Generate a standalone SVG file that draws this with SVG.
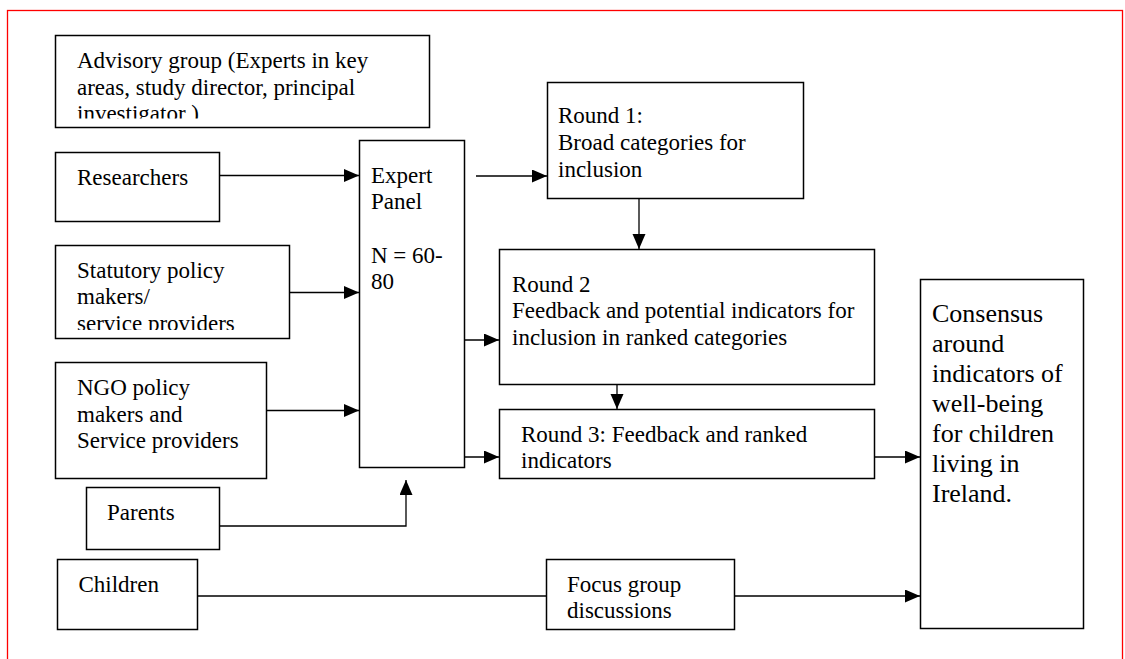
<svg xmlns="http://www.w3.org/2000/svg" width="1125" height="659" viewBox="0 0 1125 659">
<style>
.box{fill:#fff;stroke:#000;stroke-width:1.5}
.t{font-family:"Liberation Serif","Times New Roman",serif;font-size:23px;fill:#000}
.big{font-size:26px}
.c{fill:none;stroke:#000;stroke-width:1.3}
</style>
<defs>
<marker id="ah" markerUnits="userSpaceOnUse" markerWidth="16" markerHeight="14" refX="15" refY="6.5" orient="auto">
<path d="M0,0 L15,6.5 L0,13 z" fill="#000"/>
</marker>
<clipPath id="clipAdv"><rect x="55" y="35" width="375" height="83.5"/></clipPath>
<clipPath id="clipStat"><rect x="55" y="245" width="234" height="85"/></clipPath>
</defs>
<rect x="7.5" y="10.5" width="1115" height="700" fill="none" stroke="#f00" stroke-width="1.3"/>
<g id="connectors">
<path class="c" d="M219,175.5 H359" marker-end="url(#ah)"/>
<path class="c" d="M289,292.5 H359" marker-end="url(#ah)"/>
<path class="c" d="M266,410.5 H359" marker-end="url(#ah)"/>
<path class="c" d="M219,526 H406 V480" marker-end="url(#ah)"/>
<path class="c" d="M476,176 H547" marker-end="url(#ah)"/>
<path class="c" d="M639,198 V249" marker-end="url(#ah)"/>
<path class="c" d="M452,340 H499" marker-end="url(#ah)"/>
<path class="c" d="M617,385 V409" marker-end="url(#ah)"/>
<path class="c" d="M452,457 H499" marker-end="url(#ah)"/>
<path class="c" d="M874,457 H920" marker-end="url(#ah)"/>
<path class="c" d="M198,596 H546"/>
<path class="c" d="M734,596 H920" marker-end="url(#ah)"/>
</g>
<g id="advisory">
<rect class="box" x="55.5" y="35.5" width="374" height="92"/>
<g clip-path="url(#clipAdv)">
<text class="t" x="77" y="68">Advisory group (Experts in key</text>
<text class="t" x="77" y="94.5">areas, study director, principal</text>
<text class="t" x="77" y="121">investigator )</text>
</g>
</g>
<g id="researchers">
<rect class="box" x="55.5" y="152.5" width="164" height="69"/>
<text class="t" x="77" y="185">Researchers</text>
</g>
<g id="statutory">
<rect class="box" x="55.5" y="245.5" width="234" height="93"/>
<g clip-path="url(#clipStat)">
<text class="t" x="77" y="278">Statutory policy</text>
<text class="t" x="77" y="304">makers/</text>
<text class="t" x="77" y="331">service providers</text>
</g>
</g>
<g id="ngo">
<rect class="box" x="55.5" y="362.5" width="211" height="116"/>
<text class="t" x="77" y="395">NGO policy</text>
<text class="t" x="77" y="421.5">makers and</text>
<text class="t" x="77" y="448">Service providers</text>
</g>
<g id="parents">
<rect class="box" x="86.5" y="487.5" width="133" height="62"/>
<text class="t" x="107" y="520">Parents</text>
</g>
<g id="children">
<rect class="box" x="57.5" y="559.5" width="140" height="70"/>
<text class="t" x="78.5" y="592">Children</text>
</g>
<g id="expert-panel">
<rect class="box" x="359.5" y="140.5" width="105" height="327"/>
<text class="t" x="371" y="183">Expert</text>
<text class="t" x="371" y="209">Panel</text>
<text class="t" x="371" y="263">N = 60-</text>
<text class="t" x="371" y="289">80</text>
</g>
<g id="round1">
<rect class="box" x="547.5" y="82.5" width="256" height="116"/>
<text class="t" x="558" y="123">Round 1:</text>
<text class="t" x="558" y="150">Broad categories for</text>
<text class="t" x="558" y="177">inclusion</text>
</g>
<g id="round2">
<rect class="box" x="499.5" y="249.5" width="375" height="135"/>
<text class="t" x="512" y="292">Round 2</text>
<text class="t" x="512" y="318">Feedback and potential indicators for</text>
<text class="t" x="512" y="345">inclusion in ranked categories</text>
</g>
<g id="round3">
<rect class="box" x="499.5" y="409.5" width="375" height="69"/>
<text class="t" x="521" y="442">Round 3: Feedback and ranked</text>
<text class="t" x="521" y="468">indicators</text>
</g>
<g id="focus">
<rect class="box" x="546.5" y="559.5" width="188" height="70"/>
<text class="t" x="567" y="592">Focus group</text>
<text class="t" x="567" y="618">discussions</text>
</g>
<g id="consensus">
<rect class="box" x="920.5" y="279.5" width="163" height="349"/>
<text class="t big" x="932" y="322">Consensus</text>
<text class="t big" x="932" y="352">around</text>
<text class="t big" x="932" y="382">indicators of</text>
<text class="t big" x="932" y="412">well-being</text>
<text class="t big" x="932" y="442">for children</text>
<text class="t big" x="932" y="472">living in</text>
<text class="t big" x="932" y="502">Ireland.</text>
</g>
</svg>
